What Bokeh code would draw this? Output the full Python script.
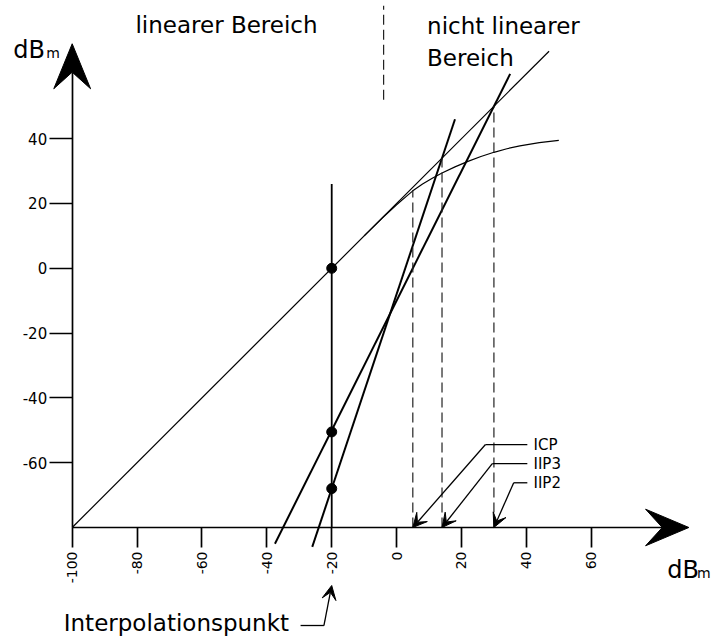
from bokeh.plotting import figure
from bokeh.models import FixedTicker, Range1d, Arrow, VeeHead, LinearAxis
from bokeh.embed import file_html
from bokeh.resources import INLINE
from bokeh.core.properties import value

# ---------------- data ----------------
x_ticks = [-100, -80, -60, -40, -20, 0, 20, 40, 60]
y_ticks = [-60, -40, -20, 0, 20, 40]

fund_x = [-100, 47]            # fundamental (slope 1)
fund_y = [-80, 67]
comp_x = [-10, -4, 0, 3, 5, 8, 11, 14, 18, 22, 26, 30, 34, 38, 44, 50]   # compressed output
comp_y = [10, 15.9, 19.6, 22.2, 23.9, 26.0, 27.8, 29.4, 31.3, 33.0, 34.5, 35.8,
          36.9, 37.8, 38.8, 39.5]
im2_x = [-37.5, 35]            # 2nd order product (slope 2)
im2_y = [-85, 60]
im3_x = [-26, 18]              # 3rd order product (slope 3)
im3_y = [-86, 46]

interp_x = -20
interp_y = [0, -50.5, -68]
interp_line_y = [-80, 26]

marker_names = ["ICP", "IIP3", "IIP2"]
marker_x = [5, 14, 30]
marker_top = [24.2, 34, 50]

region_x = -4
region_y = [52, 81]

# ---------------- figure ----------------
W, H = 712, 638
X0, X1 = -122.10, 97.38
Y0, Y1 = -114.26, 82.65
SX = W / (X1 - X0)   # px per unit
SY = H / (Y1 - Y0)

FONT = value("DejaVu Sans")

p = figure(width=W, height=H, output_backend="svg", toolbar_location=None,
           x_range=Range1d(X0, X1), y_range=Range1d(Y0, Y1),
           min_border=0, x_axis_location=None, y_axis_location=None)
p.grid.visible = False
p.outline_line_color = None
p.background_fill_color = "white"
p.border_fill_color = "white"

AX_X_END = 90.1 - 26.6 / SX
AX_Y_END = 69.3 - 28.4 / SY

xaxis = LinearAxis(fixed_location=-80, bounds=(-100, AX_X_END),
                   ticker=FixedTicker(ticks=x_ticks))
yaxis = LinearAxis(fixed_location=-100, bounds=(-80, AX_Y_END),
                   ticker=FixedTicker(ticks=y_ticks))
for ax, ticks in ((xaxis, x_ticks), (yaxis, y_ticks)):
    ax.axis_line_width = 1.7
    ax.axis_line_color = "black"
    ax.major_tick_line_width = 1.7
    ax.major_tick_line_color = "black"
    ax.minor_tick_line_color = None
    ax.major_tick_in = 0
    ax.major_label_text_font = "DejaVu Sans"
    ax.major_label_text_color = "black"
    ax.major_label_overrides = {t: str(t) for t in ticks}
xaxis.major_label_text_font_size = "14px"
yaxis.major_label_text_font_size = "15px"
xaxis.major_tick_out = 20
xaxis.major_label_orientation = 3.14159265 / 2
xaxis.major_label_standoff = 4
yaxis.major_tick_out = 23
yaxis.major_label_standoff = 2
p.add_layout(xaxis, "below")
p.add_layout(yaxis, "left")

# axis arrow heads
yl, yw, yn = 45, 18.4, 28.4
p.patch([-100, -100 - yw / SX, -100, -100 + yw / SX],
        [69.3, 69.3 - yl / SY, 69.3 - yn / SY, 69.3 - yl / SY],
        color="black", line_width=1)
xl, xw, xn = 43.3, 18.3, 26.6
p.patch([90.1, 90.1 - xl / SX, 90.1 - xn / SX, 90.1 - xl / SX],
        [-80, -80 + xw / SY, -80, -80 - xw / SY],
        color="black", line_width=1)

# curves
p.line(fund_x, fund_y, line_color="black", line_width=1.2)
p.line(comp_x, comp_y, line_color="black", line_width=1.2)
p.line(im2_x, im2_y, line_color="black", line_width=2)
p.line(im3_x, im3_y, line_color="black", line_width=2)
p.line([interp_x, interp_x], interp_line_y, line_color="black", line_width=1.8)
p.scatter([interp_x] * len(interp_y), interp_y, size=10, color="black")

# dashed verticals
p.segment(x0=marker_x, y0=[-80] * 3, x1=marker_x, y1=marker_top,
          line_color="#222222", line_width=1.2, line_dash="10 5")
p.segment(x0=[region_x], y0=[region_y[0]], x1=[region_x], y1=[region_y[1]],
          line_color="#222222", line_width=1.2, line_dash="10 5")

# leader lines for ICP / IIP3 / IIP2
label_y = [-54.4, -60.3, -66.2]
elbow_x = [27.4, 29.5, 36.1]
p.segment(x0=elbow_x, y0=label_y, x1=[40.3] * 3, y1=label_y,
          line_color="black", line_width=1.3)
for ex, ly, mx in zip(elbow_x, label_y, marker_x):
    p.add_layout(Arrow(end=VeeHead(size=14, fill_color="black", line_color="black"),
                       x_start=ex, y_start=ly, x_end=mx, y_end=-80,
                       line_color="black", line_width=1.3))
p.text(x=[42.2] * 3, y=label_y, text=marker_names, text_font=FONT,
       text_font_size=value("15px"), text_baseline="middle", text_align="left",
       text_color="black")

# Interpolationspunkt
p.segment(x0=[-29.6], y0=[-110.25], x1=[-22.4], y1=[-110.25],
          line_color="black", line_width=1.3)
p.add_layout(Arrow(end=VeeHead(size=14, fill_color="black", line_color="black"),
                   x_start=-22.4, y_start=-110.25, x_end=interp_x, y_end=-97.9,
                   line_color="black", line_width=1.3))

big = dict(text_font=FONT, text_font_size=value("23px"),
           text_baseline="alphabetic", text_align="left", text_color="black")
p.text(x=[-80.5], y=[75.1], text=["linearer Bereich"], **big)
p.text(x=[9.4, 9.4], y=[74.9, 65.0], text=["nicht linearer", "Bereich"], **big)
p.text(x=[-102.6], y=[-109.4], text=["Interpolationspunkt"], **big)

# axis units dBm
unit = dict(text_font=FONT, text_baseline="alphabetic", text_align="left",
            text_color="black")
p.text(x=[-118.2, 83.4], y=[67.4, -93.1], text=["dB", "dB"],
       text_font_size=value("24px"), **unit)
p.text(x=[-108.0, 92.6], y=[66.5, -94.0], text=["m", "m"],
       text_font_size=value("14px"), **unit)

open("out.html", "w").write(file_html(p, INLINE))
